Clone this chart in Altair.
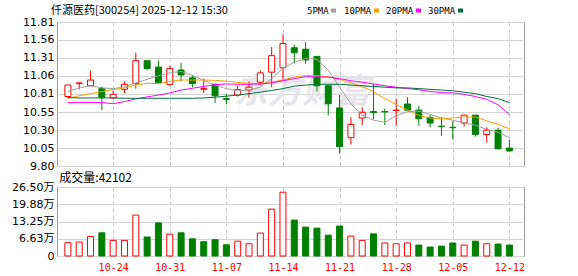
import altair as alt
import pandas as pd

# ---------------- data ----------------
dates = ["10-20", "10-21", "10-22", "10-23", "10-24", "10-27", "10-28", "10-29", "10-30", "10-31",
         "11-03", "11-04", "11-05", "11-06", "11-07", "11-10", "11-11", "11-12", "11-13", "11-14",
         "11-17", "11-18", "11-19", "11-20", "11-21", "11-24", "11-25", "11-26", "11-27", "11-28",
         "12-01", "12-02", "12-03", "12-04", "12-05", "12-08", "12-09", "12-10", "12-11", "12-12"]
opens = [10.77, 10.95, 10.92, 10.88, 10.75, 10.87, 10.95, 11.27, 11.18, 10.94,
         11.14, 11.03, 10.87, 10.94, 10.74, 10.79, 10.86, 10.97, 11.11, 11.17,
         11.45, 11.43, 11.33, 10.92, 10.61, 10.195, 10.47, 10.56, 10.56, 10.575,
         10.665, 10.58, 10.48, 10.355, 10.34, 10.40, 10.51, 10.24, 10.30, 10.05]
highs = [10.93, 10.97, 11.13, 10.91, 10.85, 10.98, 11.38, 11.27, 11.27, 11.20,
         11.24, 11.07, 11.02, 10.95, 10.80, 10.92, 10.98, 11.13, 11.46, 11.64,
         11.49, 11.53, 11.33, 10.92, 10.79, 10.48, 10.62, 10.95, 10.60, 10.74,
         10.76, 10.64, 10.52, 10.48, 10.43, 10.51, 10.51, 10.34, 10.335, 10.17]
lows = [10.75, 10.87, 10.92, 10.58, 10.74, 10.82, 10.88, 11.14, 10.95, 10.92,
        10.98, 10.90, 10.82, 10.68, 10.66, 10.77, 10.75, 10.93, 10.90, 11.01,
        11.23, 11.23, 10.84, 10.51, 9.97, 10.10, 10.37, 10.45, 10.37, 10.36,
        10.57, 10.36, 10.34, 10.22, 10.17, 10.35, 10.21, 10.125, 10.03, 10.00]
closes = [10.93, 10.96, 11.00, 10.76, 10.80, 10.94, 11.27, 11.16, 10.96, 11.16,
          11.07, 10.95, 10.88, 10.78, 10.73, 10.865, 10.90, 11.10, 11.34, 11.51,
          11.38, 11.28, 10.92, 10.67, 10.07, 10.38, 10.55, 10.545, 10.555, 10.58,
          10.58, 10.46, 10.40, 10.35, 10.335, 10.51, 10.24, 10.30, 10.04, 10.01]
ma5 = [10.84, 10.89, 10.92, 10.89, 10.88, 10.905, 10.96, 11.01, 11.06, 11.10,
       11.12, 11.065, 10.995, 10.93, 10.88, 10.85, 10.86, 10.90, 11.02, 11.16,
       11.25, 11.30, 11.29, 11.14, 10.90, 10.67, 10.51, 10.44, 10.41, 10.50,
       10.56, 10.565, 10.52, 10.47, 10.44, 10.40, 10.37, 10.31, 10.27, 10.195]
ma10 = [10.745, 10.78, 10.81, 10.84, 10.865, 10.89, 10.93, 10.955, 10.95, 10.98,
        11.00, 11.00, 11.00, 10.995, 10.985, 10.965, 10.955, 10.95, 10.97, 11.00,
        11.04, 11.065, 11.06, 11.045, 11.01, 10.96, 10.91, 10.835, 10.74, 10.66,
        10.58, 10.505, 10.47, 10.46, 10.47, 10.485, 10.485, 10.43, 10.38, 10.32]
ma20 = [10.685, 10.685, 10.685, 10.685, 10.67, 10.70, 10.735, 10.765, 10.79, 10.82,
        10.86, 10.885, 10.91, 10.935, 10.945, 10.94, 10.94, 10.945, 10.96, 10.99,
        11.02, 11.045, 11.045, 11.04, 11.02, 10.99, 10.97, 10.945, 10.92, 10.90,
        10.88, 10.865, 10.84, 10.825, 10.82, 10.80, 10.77, 10.73, 10.655, 10.52]
ma30 = [10.755, 10.75, 10.75, 10.75, 10.75, 10.745, 10.745, 10.745, 10.745, 10.745,
        10.745, 10.745, 10.75, 10.76, 10.775, 10.79, 10.81, 10.83, 10.855, 10.88,
        10.915, 10.93, 10.94, 10.94, 10.94, 10.93, 10.92, 10.91, 10.90, 10.89,
        10.89, 10.88, 10.87, 10.86, 10.85, 10.83, 10.81, 10.77, 10.74, 10.685]
# volume in 万 (10k shares)
volumes = [5.1, 5.35, 7.5, 8.9, 6.0, 6.0, 15.7, 7.3, 12.7, 8.4,
           8.9, 6.6, 5.5, 6.25, 4.3, 5.7, 4.7, 8.8, 18.0, 24.5,
           13.8, 11.1, 10.7, 8.0, 11.5, 7.65, 6.0, 8.5, 5.0, 4.7,
           5.0, 4.2, 3.45, 3.8, 5.0, 4.2, 5.7, 4.7, 4.6, 4.2102]
vol_dir = ["up", "up", "up", "down", "up", "up", "up", "down", "down", "up",
           "down", "down", "down", "down", "down", "up", "up", "up", "up", "up",
           "down", "down", "down", "down", "down", "up", "up", "down", "up", "up",
           "up", "down", "down", "down", "down", "up", "down", "up", "down", "down"]
price_ticks = [9.80, 10.05, 10.30, 10.55, 10.81, 11.06, 11.31, 11.56, 11.81]
vol_ticks = [0, 6.625, 13.25, 19.875, 26.5]
grid_idx = [4, 9, 14, 19, 24, 29, 34, 39]
title_text = "仟源医药[300254] 2025-12-12 15:30"
vol_text = "成交量:42102"
ma_names = ["5PMA", "10PMA", "20PMA", "30PMA"]
ma_colors = ["#a0a0a0", "#f5a000", "#ff00ff", "#00703c"]

RED = "#ff0000"
GREEN = "#008000"

N = len(dates)
df = pd.DataFrame({
    "i": list(range(N)), "date": dates,
    "open": opens, "high": highs, "low": lows, "close": closes,
    "ma5": ma5, "ma10": ma10, "ma20": ma20, "ma30": ma30,
    "vol": volumes, "vdir": vol_dir,
})
df["dir"] = ["up" if c >= o else "down" for o, c in zip(opens, closes)]
one = pd.DataFrame({"k": [0]})

PW, PH, VH = 467, 144, 69

xscale = alt.Scale(domain=[-0.52, 39.85], nice=False, zero=False)
date_expr = "[" + ",".join("'%s'" % d for d in dates) + "][datum.value]"

x_top = alt.X("i:Q", scale=xscale, axis=alt.Axis(
    values=grid_idx, labels=False, ticks=False, tickSize=0, domain=False, title=None,
    grid=True, gridDash=[4, 3], gridColor="#c8c8c8", gridWidth=1))
x_bot = alt.X("i:Q", scale=xscale, axis=alt.Axis(
    values=grid_idx, labelExpr=date_expr, labelColor=RED, labelFont="DejaVu Sans Mono",
    labelFontSize=10, labelPadding=6, ticks=False, tickSize=0, domain=False, title=None,
    grid=True, gridDash=[4, 3], gridColor="#c8c8c8", gridWidth=1,
    labelFlush=False, labelOverlap=False, labelBound=False))

yscale = alt.Scale(domain=[9.80, 11.81], nice=False, zero=False)
yaxis = alt.Axis(values=price_ticks, format=".2f", labelFont="DejaVu Sans", labelFontSize=11,
                 labelColor="#000000", labelPadding=3, ticks=False, tickSize=0, domain=False,
                 title=None, grid=True, gridColor="#d4d4d4", gridWidth=1,
                 labelFlush=False, labelOverlap=False, labelBaseline="middle")

dir_stroke = alt.Scale(domain=["up", "down"], range=[RED, GREEN])
dir_fill = alt.Scale(domain=["up", "down"], range=["#ffffff", GREEN])

base = alt.Chart(df)

wicks = base.mark_rule(strokeWidth=1).encode(
    x=x_top,
    y=alt.Y("low:Q", scale=yscale, axis=yaxis),
    y2="high:Q",
    color=alt.Color("dir:N", scale=dir_stroke, legend=None),
)
bodies = base.mark_bar(size=6, strokeWidth=1, orient="vertical").encode(
    x=x_top,
    y=alt.Y("open:Q", scale=yscale, axis=yaxis),
    y2="close:Q",
    fill=alt.Fill("dir:N", scale=dir_fill, legend=None),
    stroke=alt.Stroke("dir:N", scale=dir_stroke, legend=None),
)
ma_layers = []
for col, c in zip(["ma5", "ma10", "ma20", "ma30"], ma_colors):
    ma_layers.append(base.mark_line(color=c, strokeWidth=1).encode(
        x=x_top, y=alt.Y(col + ":Q", scale=yscale, axis=yaxis)))


def txt(text, x, y, size, font, color="#000000", align="left", baseline="alphabetic", **kw):
    return alt.Chart(one).mark_text(text=text, fontSize=size, font=font, color=color,
                                    align=align, baseline=baseline, **kw).encode(
        x=alt.value(x), y=alt.value(y))


def sq(x, y, w, h, color):
    return alt.Chart(one).mark_rect(color=color).encode(
        x=alt.value(x), x2=alt.value(x + w), y=alt.value(y), y2=alt.value(y + h))


watermark = txt("东方财富", 245, 71, 34, "Noto Sans CJK SC", color="#e6e6ea",
                align="center", baseline="middle", fontWeight="bold", fontStyle="italic")
title = txt(title_text, -6, -8, 11, "Noto Sans CJK SC")
legend_layers = []
lx = [250, 287, 329, 371]
sx = [274, 317, 359, 401]
for name, c, a, b in zip(ma_names, ma_colors, lx, sx):
    legend_layers.append(txt(name, a, -8.5, 9, "DejaVu Sans Mono"))
    legend_layers.append(sq(b, -13.5, 5, 4, c))

anchor = alt.Chart(one).mark_rule(color="#ffffff", strokeWidth=1).encode(
    x=alt.value(-55.5), x2=alt.value(-50), y=alt.value(-20.5))

top = alt.layer(watermark, wicks, bodies, *ma_layers, title, *legend_layers, anchor).properties(
    width=PW, height=PH)

# ---------------- volume panel ----------------
vaxis = alt.Axis(values=vol_ticks,
                 labelExpr="datum.value == 0 ? '0' : format(datum.value, '.2f') + '万'",
                 labelFont="DejaVu Sans, Noto Sans CJK SC", labelFontSize=11, labelColor="#000000",
                 labelPadding=3, ticks=False, tickSize=0, domain=False, title=None, grid=True,
                 gridColor="#d4d4d4", gridWidth=1, labelFlush=False, labelOverlap=False,
                 labelBaseline="middle")
vbars = base.mark_bar(size=6, strokeWidth=1, orient="vertical").encode(
    x=x_bot,
    y=alt.Y("vol:Q", scale=alt.Scale(domain=[0, 26.5], nice=False, zero=True), axis=vaxis),
    fill=alt.Fill("vdir:N", scale=dir_fill, legend=None),
    stroke=alt.Stroke("vdir:N", scale=dir_stroke, legend=None),
)
vtitle = txt(vol_text, 2.3, -5, 12, "Noto Sans CJK SC")
bottom = alt.layer(vbars, vtitle).properties(width=PW, height=VH)

chart = alt.vconcat(top, bottom, spacing=21, bounds="flush").properties(
    padding=0, background="#ffffff"
).configure_view(stroke="#999999", strokeWidth=1)

chart.save("out.html", embed_options={"renderer": "svg", "actions": False})
